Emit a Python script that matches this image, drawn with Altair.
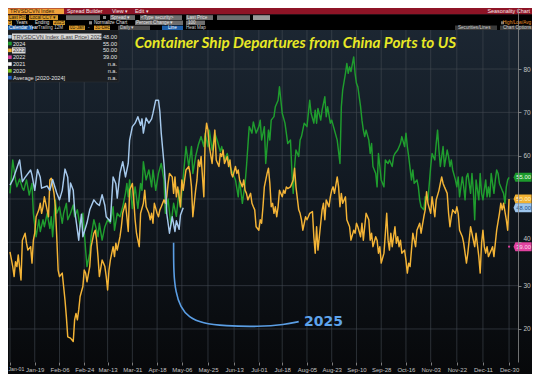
import altair as alt
import pandas as pd

# ---------------- data ----------------
tick_days = [0, 18, 36, 54, 71, 89, 107, 125, 144, 163, 181, 198, 216, 234, 252, 270, 288, 306, 325, 344, 363]
tick_labels = ["Jan-01", "Jan-19", "Feb-06", "Feb-24", "Mar-13", "Mar-31", "Apr-18", "May-06", "May-25",
               "Jun-13", "Jul-01", "Jul-18", "Aug-05", "Aug-23", "Sep-10", "Sep-28", "Oct-16", "Nov-03",
               "Nov-22", "Dec-11", "Dec-30"]
y_ticks = [20, 30, 40, 50, 60, 70, 80]

# 2025 (light blue) : (day of year, departures)
s2025 = [(0, 53.2), (2, 54.4), (7, 59), (9, 54), (11, 55), (15, 56.7), (16, 55.5), (18, 52), (20, 56.8), (22, 55),
         (23, 52.5), (27, 53), (29, 52), (31, 54.5), (34, 51.4), (36, 49.8), (38, 52), (40, 56.9), (42, 55),
         (43, 49.4), (44, 53.7), (46, 52), (47, 47.5), (50, 40.5), (51, 44), (52, 46.5), (53, 41.3), (56, 44.5),
         (58, 47.5), (61, 49.8), (63, 49), (65, 48.5), (67, 51), (69, 48.5), (70, 45.9), (73, 44.8), (75, 55.1),
         (77, 53.5), (78, 50.2), (80, 56), (82, 58.6), (84, 55.1), (86, 58.2), (87, 63.6), (89, 66.7), (91, 67.5),
         (93, 69), (95, 67), (96, 68.5), (97, 65.2), (99, 68.7), (101, 67.5), (103, 68.5), (104, 69.8), (106, 72.8),
         (108, 72.8), (109, 70.2), (110, 65.2), (112, 58.2), (113, 53.6), (114, 46.7), (115, 44.4), (116, 42.1),
         (118, 45.9), (120, 42.5), (121, 45), (123, 43), (124, 46.3), (126, 48)]

# 2024 (green)
s2024 = [(0, 51.3), (2, 59), (4, 54.4), (5, 52.8), (7, 54.6), (9, 52.5), (10, 52), (12, 54.4), (14, 50.9), (16, 53.6),
         (17, 46.7), (19, 41.3), (21, 45.2), (22, 42.5), (24, 45.2), (25, 43.6), (27, 46.7), (29, 43.2), (30, 45.9),
         (31, 41.3), (33, 49.8), (34, 46.7), (36, 48.2), (38, 44.4), (39, 46.7), (41, 49), (42, 45.2), (44, 46.7),
         (46, 48.6), (47, 45.9), (49, 47.5), (51, 43.6), (53, 46.7), (55, 38.2), (56, 34.4), (58, 37.5), (59, 41.3),
         (61, 45.2), (63, 42.8), (64, 41.3), (65, 44.4), (67, 40.5), (69, 43.6), (71, 45.2), (73, 44.4), (75, 48.2),
         (76, 42.8), (78, 46.7), (80, 45.9), (82, 48.2), (84, 51.3), (85, 53.6), (86, 50.5), (87, 54.4), (89, 47.8),
         (91, 52.8), (93, 47.8), (95, 53.6), (96, 52), (97, 58.6), (99, 54.4), (101, 56.7), (103, 52.8), (104, 56.7),
         (106, 52), (108, 55.9), (110, 58.2), (112, 54.4), (113, 46.7), (115, 50), (117, 44), (119, 49), (121, 46),
         (123, 52), (124, 48), (126, 55), (128, 62.1), (130, 57.5), (132, 62.1), (133, 55.9), (135, 59.8),
         (137, 62.5), (139, 64.4), (141, 62.1), (142, 65.2), (144, 62.1), (145, 65.9), (147, 61.3), (149, 65.2),
         (151, 63.2), (153, 60.9), (154, 62.1), (156, 59), (158, 60.5), (160, 57.5), (162, 55.9), (164, 54.4),
         (166, 50.5), (167, 54.4), (169, 49), (171, 53.6), (172, 57.5), (174, 66.7), (176, 65.2), (177, 67.8),
         (179, 65.2), (181, 66.7), (182, 68.2), (183, 63.6), (185, 66.7), (186, 58.2), (188, 65.9), (189, 63.6),
         (190, 68.2), (192, 69), (193, 71.3), (195, 72.8), (196, 75.9), (198, 69.8), (200, 67.5), (201, 65.2),
         (202, 62.8), (204, 63.6), (205, 56.7), (206, 51.3), (207, 57.5), (208, 61.3), (210, 59.8), (211, 63.6),
         (212, 64.4), (214, 67.5), (216, 66.7), (218, 72.8), (219, 69.8), (221, 67.5), (222, 70.5), (223, 67.5),
         (224, 70.9), (226, 68.2), (227, 70.5), (229, 73.6), (230, 69), (231, 71.3), (233, 67.5), (234, 68.2),
         (236, 65.9), (238, 63.6), (240, 58.2), (241, 71.3), (242, 75.2), (244, 79), (245, 81.3), (246, 79),
         (247, 80.5), (248, 79.4), (250, 82.8), (251, 79), (252, 76.7), (253, 75.9), (255, 71.3), (256, 68.2),
         (257, 65.9), (258, 64.4), (259, 65.9), (261, 63.6), (262, 60.5), (263, 62.8), (264, 57.5), (266, 55.9),
         (267, 52.8), (268, 60.5), (269, 57.5), (270, 54.4), (272, 52.8), (273, 59), (275, 58.2), (276, 59),
         (278, 57.5), (279, 59.8), (280, 60.5), (282, 61.3), (284, 62.8), (285, 64.4), (287, 62.1), (288, 65.2),
         (289, 62.1), (290, 59.8), (292, 54.4), (293, 56.7), (294, 53.6), (296, 54.4), (297, 52.8), (298, 49.8),
         (299, 48.2), (301, 47.5), (302, 50.5), (304, 49.8), (305, 53.6), (306, 57.5), (307, 60.5), (309, 59),
         (310, 62.8), (311, 65.9), (312, 61.3), (313, 57.5), (314, 59.8), (315, 62.1), (316, 57.5), (318, 61.3),
         (319, 59.8), (320, 57.5), (321, 59), (322, 56.7), (324, 54.4), (325, 52.8), (326, 55.1), (327, 50.5),
         (329, 55.1), (330, 52.8), (331, 49.8), (332, 55.1), (333, 55.9), (335, 51.3), (336, 55.9), (337, 52),
         (338, 45.2), (339, 54.4), (341, 49.8), (342, 55.9), (343, 51.3), (344, 49.8), (346, 54.4), (347, 50.5),
         (348, 52.8), (349, 50.5), (350, 55.9), (352, 51.3), (353, 54.4), (354, 56.7), (355, 55.9), (356, 53.6),
         (358, 52), (359, 51.3), (360, 49), (361, 52.8), (362, 54.4), (363, 55)]

# 2023 (orange)
s2023 = [(0, 37.8), (2, 34.4), (3, 32.1), (4, 35.5), (5, 34.4), (6, 37.1), (8, 31.3), (9, 40.5), (11, 42.1), (12, 39.8),
         (13, 38.2), (15, 39), (16, 35.2), (17, 40.5), (18, 42.1), (19, 45.9), (21, 47.5), (22, 49), (23, 46.7),
         (24, 48.2), (25, 50.5), (27, 47.5), (28, 45.9), (29, 54.4), (30, 54.8), (32, 51.3), (33, 48.2), (34, 41.3),
         (35, 33.6), (36, 32.1), (38, 32.9), (39, 29.8), (40, 26.7), (41, 22.8), (42, 18.2), (44, 17.9), (46, 17.1),
         (47, 22.1), (48, 23.6), (49, 22.1), (50, 24.4), (51, 27.5), (53, 29.8), (54, 33.6), (55, 32.9), (56, 30.9),
         (58, 34.4), (59, 39), (61, 42.1), (62, 42.8), (63, 40.5), (64, 36.7), (65, 32.1), (67, 35.9), (68, 35.2),
         (69, 34.4), (70, 32.1), (71, 29), (72, 33.6), (73, 35.9), (75, 39), (76, 36.7), (77, 39.8), (78, 38.2),
         (80, 41.3), (81, 43.6), (82, 46.7), (84, 49), (85, 45.9), (86, 42.5), (87, 52), (89, 53.6), (90, 49.8),
         (91, 45.2), (92, 42.1), (93, 40.5), (94, 39), (95, 46.7), (97, 49), (98, 52), (99, 48.2), (101, 46.7),
         (102, 45.2), (103, 46.7), (104, 44.4), (105, 49), (107, 46.7), (108, 45.9), (109, 47.5), (110, 48.2),
         (112, 49.8), (113, 49), (114, 50.5), (115, 53.6), (116, 55.9), (118, 55.1), (119, 51.3), (120, 55.1),
         (121, 50.5), (122, 52.8), (124, 48.2), (125, 54.4), (126, 52), (127, 54.4), (128, 56.7), (130, 57.5),
         (131, 55.9), (132, 52.8), (133, 45.9), (135, 52), (136, 54.4), (137, 59), (138, 57.5), (139, 59.8),
         (141, 50.5), (142, 64.4), (143, 67.5), (144, 65.9), (145, 62.1), (147, 58.2), (148, 62.1), (149, 65.9),
         (150, 59), (152, 57.5), (153, 60.5), (154, 59.8), (155, 61.3), (156, 58.2), (158, 59.8), (159, 57.5),
         (160, 59), (161, 55.9), (162, 55.1), (164, 57.5), (165, 55.9), (166, 56.7), (167, 54.4), (169, 52.8),
         (170, 54.4), (171, 52), (172, 51.3), (173, 49.8), (175, 51.3), (176, 49), (177, 48.2), (178, 47.5),
         (179, 43.6), (181, 42.8), (182, 45.2), (183, 44.4), (184, 48.2), (185, 52.8), (187, 55.9), (188, 57.1),
         (189, 53.6), (190, 48.2), (191, 49), (192, 46.7), (193, 48.2), (194, 45.9), (195, 48.2), (196, 52),
         (198, 50.5), (199, 52), (200, 51.3), (201, 52.8), (202, 52.4), (204, 52.8), (205, 53.6), (206, 54.4),
         (207, 57.1), (208, 52.8), (210, 47.5), (211, 46.7), (212, 45.2), (213, 42.8), (215, 45.9), (216, 45.2),
         (217, 45.9), (218, 46.7), (220, 47.1), (221, 41.3), (222, 37.5), (223, 43.6), (224, 38.2), (226, 44.4),
         (227, 47.5), (228, 49), (229, 45.2), (230, 49.8), (232, 48.2), (233, 50.5), (234, 52), (235, 52.8),
         (236, 51.3), (238, 55.1), (239, 52.8), (240, 48.2), (241, 51.3), (242, 49), (244, 50.5), (245, 45.2),
         (246, 44.4), (247, 43.6), (248, 40.5), (250, 42.8), (251, 42.1), (252, 44.4), (253, 43.6), (255, 41.3),
         (256, 44.4), (257, 40.5), (258, 43.6), (259, 46.7), (261, 45.2), (262, 40.5), (263, 42.1), (264, 39),
         (266, 41.3), (267, 40.5), (268, 37.5), (269, 39), (270, 35.2), (272, 37.5), (273, 42), (274, 46.7),
         (275, 40.5), (276, 38.2), (277, 42.1), (278, 39), (280, 43.6), (281, 39.8), (282, 41.3), (283, 39),
         (284, 40.5), (285, 37.5), (287, 38.2), (288, 35.9), (289, 32.9), (290, 35.2), (291, 34.4), (292, 38.2),
         (293, 42.1), (295, 39), (296, 42.8), (297, 43.6), (298, 44.4), (299, 42.1), (301, 45.9), (302, 47.5),
         (303, 51.7), (304, 49), (306, 46.7), (307, 50.5), (308, 48.2), (309, 45.9), (310, 49.8), (312, 52),
         (313, 53.6), (314, 55.1), (315, 53.6), (316, 52.8), (318, 51.3), (319, 46.7), (320, 43.6), (321, 45.9),
         (322, 47.5), (324, 46.7), (325, 48.2), (326, 46.7), (327, 42.8), (329, 41.3), (330, 39.8), (331, 37.5),
         (332, 35.2), (333, 37.5), (335, 43.6), (336, 42.1), (337, 40.5), (338, 39), (339, 42.1), (341, 36.7),
         (342, 32.9), (343, 39.8), (344, 42.8), (345, 39), (346, 37.5), (347, 39), (348, 36.7), (350, 38.2),
         (351, 39), (352, 36.7), (353, 39.8), (354, 42.8), (356, 46.7), (357, 49), (358, 47.5), (359, 49),
         (361, 45.2), (362, 42.8), (363, 50)]

# 2022 only shows its last point
s2022 = [(363, 39.0)]

legend_labels = ["TRVSDCVN Index (Last Price) 2025", "2024", "2023", "2022", "2021", "2020", "Average  [2020-2024]"]
legend_values = ["48.00", "55.00", "50.00", "39.00", "n.a.", "n.a.", "n.a."]
legend_colors = ["#a9cbe9", "#1f9d2e", "#f2b134", "#d9409b", "#ffffff", "#7cc21f", "#1f5fbf"]
legend_text_colors = ["#3a3a3a", "#e4e4e4", "#3a3a3a", "#e4e4e4", "#e4e4e4", "#e4e4e4", "#e4e4e4"]

tag_values = [55.0, 50.0, 48.0, 39.0]
tag_fill = ["#1c9a2c", "#f3b232", "#9dc6ee", "#e0429f"]
tag_text_color = ["#e9ffe9", "#fff4c8", "#1d4f8a", "#ffd6ee"]

# annotation arc pointing at 2025 (day, value)
arc = [(119, 39.9), (119, 33), (120.5, 28.5), (124, 25), (130, 22.7), (140, 21.3), (156, 20.7),
       (181, 20.5), (200, 21.0), (210, 21.7)]
arc_label = [(228, 21.6, "2025")]

title_text = "Container Ship Departures from China Ports to US"

# ---------------- layout ----------------
W, H = 510, 354
PAD_R, PAD_B = 14, 12
TW, TH = W + PAD_R, H + PAD_B

xs = alt.Scale(domain=[-1.455, 369.5], nice=False, zero=False)
ys = alt.Scale(domain=[12.38, 94.08], nice=False, zero=False)

label_expr = ("[" + ",".join("'%s'" % l for l in tick_labels) + "][indexof(["
              + ",".join(str(d) for d in tick_days) + "], datum.value)]")

x_axis = alt.Axis(values=tick_days, labelExpr=label_expr, grid=False, domain=False, ticks=True,
                  tickSize=3, tickColor="#9a9a9a", tickWidth=0.8, labelColor="#c4c4c4",
                  labelFont="Liberation Sans", labelPadding=1.5, title=None,
                  zindex=1, labelOverlap=False, labelFlush=False,
                  labelFontSize={"condition": {"test": "datum.value == 0", "value": 5.2}, "value": 6.0},
                  labelAlign={"condition": {"test": "datum.value == 0", "value": "left"}, "value": "center"},
                  labelOffset={"condition": {"test": "datum.value == 0", "value": -2}, "value": 0})
y_axis = alt.Axis(orient="right", values=y_ticks, grid=False, domain=True, domainColor="#8c8c8c",
                  domainWidth=0.8, tickSize=3, tickColor="#9a9a9a", tickWidth=0.8, labelColor="#c4c4c4",
                  labelFont="Liberation Sans", labelFontSize=6.5, labelPadding=2, title=None, zindex=1,
                  labelExpr="datum.value == 50 ? '' : datum.label",
                  labelOffset={"condition": {"test": "datum.value == 40", "value": -4}, "value": 0})


def X(field):
    return alt.X(field, scale=xs, axis=x_axis)


def Y(field):
    return alt.Y(field, scale=ys, axis=y_axis)


one = pd.DataFrame({"a": [0]})

grad = alt.Gradient(gradient="linear", x1=0, y1=0, x2=0, y2=1,
                    stops=[alt.GradientStop(color="#1d2834", offset=0),
                           alt.GradientStop(color="#121a23", offset=0.45),
                           alt.GradientStop(color="#07080a", offset=1)])
bg = alt.Chart(one).mark_rect(fill=grad).encode(
    x=alt.value(0), x2=alt.value(TW), y=alt.value(0), y2=alt.value(TH))

grid_v = alt.Chart(pd.DataFrame({"day": tick_days})).mark_rule(color="#434a53", strokeWidth=0.6).encode(
    x=X("day:Q"), y=alt.value(20), y2=alt.value(H))
grid_h = alt.Chart(pd.DataFrame({"value": y_ticks})).mark_rule(color="#434a53", strokeWidth=0.6).encode(
    y=Y("value:Q"), x=alt.value(0), x2=alt.value(W))


def series(data, color, width=1.45):
    df = pd.DataFrame(data, columns=["day", "value"])
    return alt.Chart(df).mark_line(color=color, strokeWidth=width, strokeJoin="round").encode(
        x=X("day:Q"), y=Y("value:Q"))


l2024 = series(s2024, "#1f9d2e")
l2023 = series(s2023, "#f4b436")
l2025 = series(s2025, "#a6c9ec")
p2022 = alt.Chart(pd.DataFrame(s2022, columns=["day", "value"])).mark_point(
    filled=True, size=5, color="#d9409b", opacity=1).encode(x=X("day:Q"), y=Y("value:Q"))

arc_df = pd.DataFrame(arc, columns=["day", "value"])
arc_line = alt.Chart(arc_df).mark_line(color="#5b9ee4", strokeWidth=1.6, interpolate="basis").encode(
    x=X("day:Q"), y=Y("value:Q"))
arc_txt = alt.Chart(pd.DataFrame(arc_label, columns=["day", "value", "t"])).mark_text(
    font="DejaVu Sans", fontWeight="bold", fontSize=14, color="#5ea3ea", align="center",
    baseline="middle").encode(x=X("day:Q"), y=Y("value:Q"), text="t:N")

title = alt.Chart(one).mark_text(text=title_text, font="Lato", fontStyle="italic", fontWeight="bold",
                                 fontSize=15.3, color="#e8e826", align="center", baseline="middle").encode(
    x=alt.value(287.5), y=alt.value(35))

# tags at the right of the plot
tag_df = pd.DataFrame({"value": tag_values, "fill": tag_fill, "tc": tag_text_color,
                       "t": ["%.2f" % v for v in tag_values]})
tag_shape = "M-1.05,0 L-0.85,-0.5 L0.95,-0.5 L0.95,0.5 L-0.85,0.5 Z"
tags = alt.Chart(tag_df).mark_point(shape=tag_shape, filled=True, size=324, opacity=1, strokeWidth=0).encode(
    x=alt.value(515), y=Y("value:Q"), fill=alt.Fill("fill:N", scale=None))
tag_txt = alt.Chart(tag_df).mark_text(font="Liberation Sans", fontSize=5.8, align="center",
                                      baseline="middle").encode(
    x=alt.value(515.6), y=Y("value:Q"), text="t:N", color=alt.Color("tc:N", scale=None))

# legend box (top-left)
ROW0, ROWSTEP = 28.7, 6.83
leg_df = pd.DataFrame({"label": legend_labels, "val": legend_values, "c": legend_colors,
                       "tc": legend_text_colors,
                       "ry": [ROW0 + i * ROWSTEP for i in range(len(legend_labels))]})
leg_box = alt.Chart(one).mark_rect(fill="#1b1e22", stroke="#2c3036", strokeWidth=0.6).encode(
    x=alt.value(0), x2=alt.value(111), y=alt.value(22), y2=alt.value(74))
hl_df = pd.DataFrame({"x0": [4, 4], "x1": [93.5, 17.5], "y0": [25.6, 39.3], "y1": [31.8, 45.5]})
leg_hl = alt.Chart(hl_df).mark_rect(fill="#d6d6d6").encode(
    x=alt.X("x0:Q", scale=None), x2="x1:Q", y=alt.Y("y0:Q", scale=None), y2="y1:Q")
leg_sq = alt.Chart(leg_df).mark_point(shape="square", filled=True, size=13, opacity=1).encode(
    x=alt.value(1.9), y=alt.Y("ry:Q", scale=None), fill=alt.Fill("c:N", scale=None))
leg_lab = alt.Chart(leg_df).mark_text(font="Liberation Sans", fontSize=5.6, align="left",
                                      baseline="middle").encode(
    x=alt.value(5), y=alt.Y("ry:Q", scale=None), text="label:N", color=alt.Color("tc:N", scale=None))
leg_val = alt.Chart(leg_df).mark_text(font="Liberation Sans", fontSize=5.6, align="right",
                                      baseline="middle", color="#e4e4e4").encode(
    x=alt.value(109), y=alt.Y("ry:Q", scale=None), text="val:N")

# Bloomberg toolbar chrome
OR, GR, BL = "#d89a2e", "#6e6e6e", "#1d5ea8"
chrome_rects = pd.DataFrame([
    (0, TW, 0, 6.5, "#8e1426"), (0, 56, 0.6, 6, "#f0a23c"), (0, TW, 6.5, 22, "#000000"),
    (0, 18, 7.2, 12, OR), (21, 50, 7.2, 12, OR), (58, 92, 7.2, 12, GR), (95, 98, 8, 11, "#888888"),
    (102, 127, 7.2, 12, GR), (132, 174, 7.2, 12, GR), (178, 205, 7.2, 12, GR), (209, 242, 7.2, 12, GR),
    (245, 262, 7.2, 12, "#9a9a9a"),
    (0, 4, 12.6, 17, OR), (45, 57, 12.6, 17, OR), (81, 84, 13.2, 16.4, "#888888"),
    (127, 175, 12.6, 17, GR), (178, 197, 12.6, 17, GR), (493, 496, 13.3, 16.3, "#777777"),
    (0, 25, 17.6, 22, BL), (61, 77, 17.6, 22, OR), (86, 102, 17.6, 22, OR), (110, 142, 17.6, 22, "#4a4a4a"),
    (154, 175, 17.6, 22, BL), (447, 489, 17.6, 22, "#3a3a3a"), (492, TW, 17.6, 22, "#3a3a3a"),
], columns=["x0", "x1", "y0", "y1", "fill"])
chrome_r = alt.Chart(chrome_rects).mark_rect().encode(
    x=alt.X("x0:Q", scale=None), x2="x1:Q", y=alt.Y("y0:Q", scale=None), y2="y1:Q",
    fill=alt.Fill("fill:N", scale=None))

DK, LT = "#2a1800", "#e2e2e2"
chrome_texts = pd.DataFrame([
    (2, 3.4, "TRVSDCVN Index", "#3a1a00", 5.4), (59, 3.4, "Spread Builder", "#f7e8e8", 5.4),
    (104, 3.4, "View \u25be", "#f7e8e8", 5.4), (127, 3.4, "Edit \u25be", "#f7e8e8", 5.4),
    (1, 9.7, "Last Price", DK, 4.6), (22, 9.7, "Local CCY \u25be", DK, 4.6),
    (103, 9.7, "Spread \u25be", LT, 4.6), (133, 9.7, "<Type security>", LT, 4.6),
    (179, 9.7, "Last Price", LT, 4.6),
    (0.8, 14.9, "5", DK, 4.6), (8, 14.9, "Years", LT, 4.6), (27, 14.9, "Ending", LT, 4.6),
    (46, 14.9, "2025", DK, 4.6), (86, 14.9, "Normalize Chart", LT, 4.6),
    (128, 14.9, "Percent Change \u25be", LT, 4.6), (180, 14.9, "100", LT, 4.6),
    (1, 19.9, "Calendar Year", "#ffffff", 4.6), (30, 19.9, "Trailing 12M", "#cfcfcf", 4.6),
    (62, 19.9, "01-Jan", DK, 4.6), (80, 19.9, "-", "#cfcfcf", 4.6), (87, 19.9, "31-Dec", DK, 4.6),
    (112, 19.9, "Daily \u25be", "#cfcfcf", 4.6), (160, 19.9, "Line", "#ffffff", 4.6),
    (178, 19.9, "Heat Map", "#cfcfcf", 4.6), (450, 19.9, "Securities/Lines", "#cfcfcf", 4.6),
    (495, 19.9, "Chart Options", "#cfcfcf", 4.6),
], columns=["x", "y", "t", "c", "s"])
chrome_t = alt.Chart(chrome_texts).mark_text(font="Liberation Sans", align="left", baseline="middle").encode(
    x=alt.X("x:Q", scale=None), y=alt.Y("y:Q", scale=None), text="t:N",
    color=alt.Color("c:N", scale=None), size=alt.Size("s:Q", scale=None))
chrome_tr = pd.DataFrame([(522, 3.4, "Seasonality Chart", "#f7e8e8", 5.4),
                          (523, 14.9, "High/Low/Avg", "#e8902a", 4.6)], columns=["x", "y", "t", "c", "s"])
chrome_t2 = alt.Chart(chrome_tr).mark_text(font="Liberation Sans", align="right", baseline="middle").encode(
    x=alt.X("x:Q", scale=None), y=alt.Y("y:Q", scale=None), text="t:N",
    color=alt.Color("c:N", scale=None), size=alt.Size("s:Q", scale=None))

chart = alt.layer(
    bg, grid_v, grid_h, leg_box, leg_hl, leg_sq, leg_lab, leg_val, title,
    l2024, l2023, l2025, p2022, arc_line, arc_txt, tags, tag_txt,
    chrome_r, chrome_t, chrome_t2,
).properties(
    width=W, height=H,
    padding={"left": 0, "top": 0, "right": PAD_R, "bottom": PAD_B},
    autosize=alt.AutoSizeParams(type="none"),
).configure(background="#07090c").configure_view(stroke=None)

chart.save("out.html", embed_options={"renderer": "svg", "actions": False})
